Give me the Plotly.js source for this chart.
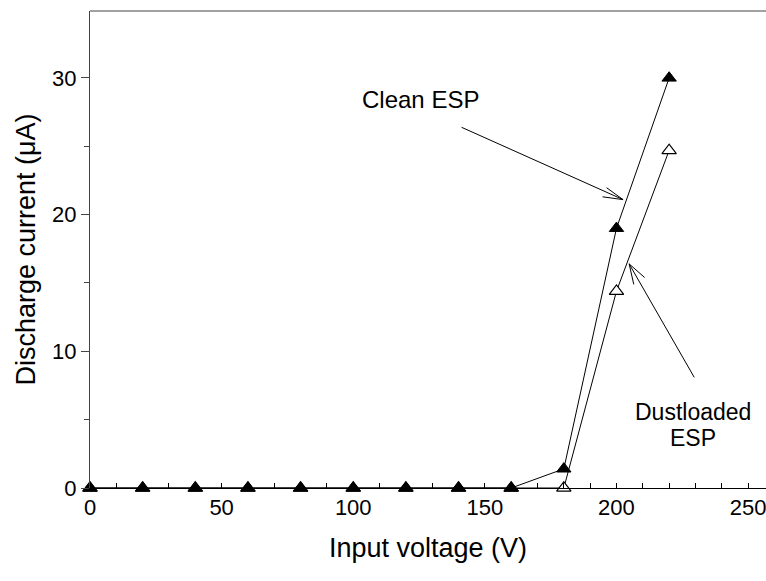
<!DOCTYPE html>
<html>
<head>
<meta charset="utf-8">
<script src="https://cdn.plot.ly/plotly-3.0.1.min.js"></script>
<style>html,body{margin:0;padding:0;background:#fff;}#chart{width:766px;height:581px;}</style>
</head>
<body>
<div id="chart"></div>
<script>
var voltage = [0, 20, 40, 60, 80, 100, 120, 140, 160, 180, 200, 220];
var cleanCurrent = [0, 0, 0, 0, 0, 0, 0, 0, 0, 1.4, 19.0, 30.0];
var dustCurrent = [0, 0, 0, 0, 0, 0, 0, 0, 0, 0, 14.4, 24.7];
var xTickVals = [0, 50, 100, 150, 200, 250];
var yTickVals = [0, 10, 20, 30];

var FONT = 'Liberation Sans, Arial, sans-serif';

var traces = [
  {
    x: voltage, y: dustCurrent, type: 'scatter', mode: 'lines+markers',
    name: 'Dustloaded ESP',
    line: {color: '#000', width: 1},
    marker: {symbol: 'triangle-up', size: 12.5, color: '#fff', line: {color: '#000', width: 1.2}},
    cliponaxis: false
  },
  {
    x: voltage, y: cleanCurrent, type: 'scatter', mode: 'lines+markers',
    name: 'Clean ESP',
    line: {color: '#000', width: 1},
    marker: {symbol: 'triangle-up', size: 12.5, color: '#000', line: {color: '#000', width: 1}},
    cliponaxis: false
  }
];

// arrow helper: a plain line (no head) ending at (x, y), starting at pixel offset (ax, ay)
function seg(x, y, ax, ay) {
  return {x: x, y: y, xref: 'x', yref: 'y', text: '', showarrow: true,
          ax: ax, ay: ay, arrowhead: 0, arrowwidth: 1, arrowcolor: '#000', standoff: 0};
}

var cleanHead = [202.5, 21.1];
var dustHead = [204.8, 16.4];

var layout = {
  width: 766, height: 581,
  margin: {l: 90, r: 0, t: 11, b: 93},
  paper_bgcolor: '#fff', plot_bgcolor: '#fff',
  showlegend: false,
  font: {family: FONT, color: '#000'},
  xaxis: {
    range: [0, 256.8],
    showgrid: false, zeroline: false,
    showline: true, linecolor: '#000', linewidth: 1,
    tickmode: 'array', tickvals: xTickVals,
    ticklabeloverflow: 'allow',
    ticks: 'inside', ticklen: 5, tickcolor: '#000', tickwidth: 1,
    minor: {dtick: 10, tick0: 0, ticks: 'inside', ticklen: 5, tickcolor: '#000', tickwidth: 1, showgrid: false},
    tickfont: {size: 22, family: FONT},
    title: {text: 'Input voltage (V)', font: {size: 27, family: FONT}, standoff: 18}
  },
  yaxis: {
    range: [0, 34.9],
    showgrid: false, zeroline: false,
    showline: true, linecolor: '#444', linewidth: 1.2,
    tickmode: 'array', tickvals: yTickVals,
    ticks: 'outside', ticklen: 8, tickcolor: '#444', tickwidth: 1,
    minor: {dtick: 5, tick0: 0, ticks: 'outside', ticklen: 5, tickcolor: '#444', tickwidth: 1, showgrid: false},
    tickfont: {size: 22, family: FONT},
    title: {text: 'Discharge current (μA)', font: {size: 27, family: FONT}, standoff: 8}
  },
  shapes: [
    {type: 'line', xref: 'paper', yref: 'paper', x0: 0, x1: 1, y0: 1, y1: 1, line: {color: '#444', width: 1.2}}
  ],
  annotations: [
    {x: 125.4, y: 28.4, xref: 'x', yref: 'y', text: 'Clean ESP', showarrow: false,
     font: {size: 24, family: FONT}, xanchor: 'center', yanchor: 'middle'},
    seg(cleanHead[0], cleanHead[1], -163, -73),
    seg(cleanHead[0], cleanHead[1], -18, -13),
    seg(cleanHead[0], cleanHead[1], -22, -3),
    seg(dustHead[0], dustHead[1], 66, 115),
    seg(dustHead[0], dustHead[1], 17, 15),
    seg(dustHead[0], dustHead[1], 5, 22),
    {x: 229.1, y: 5.56, xref: 'x', yref: 'y', text: 'Dustloaded', showarrow: false,
     font: {size: 23, family: FONT}, xanchor: 'center', yanchor: 'middle'},
    {x: 229.1, y: 3.66, xref: 'x', yref: 'y', text: 'ESP', showarrow: false,
     font: {size: 23, family: FONT}, xanchor: 'center', yanchor: 'middle'}
  ]
};

Plotly.newPlot('chart', traces, layout, {staticPlot: true, displayModeBar: false});
</script>
</body>
</html>
